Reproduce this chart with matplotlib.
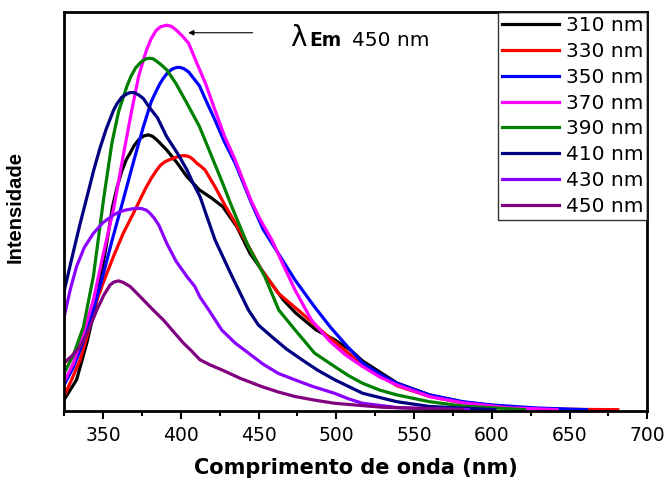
import matplotlib
matplotlib.use('Agg')
import matplotlib.pyplot as plt
from matplotlib.ticker import MultipleLocator

plt.rcParams['font.family'] = ['DejaVu Sans']

# emission spectra, wavelength (nm) vs intensity (a.u.)
nm_310 = [325, 333, 339.6, 346, 352.4, 356, 359, 362, 365, 367.4, 370, 373, 376, 379.2, 382, 385, 388, 391, 398,
          404, 412, 420, 427, 436, 444.5, 455, 466, 474, 487, 499, 509, 517, 539, 560, 581.5, 620]
int_310 = [2.8, 7.8, 17, 27.8, 42.1, 51, 56, 60, 63, 64.6, 66.5, 68, 68.9, 69.2, 68.8, 67.8, 66.6, 65.4, 62,
           58.7, 55.4, 53.3, 51.2, 46.2, 39.5, 33.7, 27.8, 24.5, 20.3, 17.8, 15.3, 12.5, 7, 4, 2.2, 0.5]

nm_330 = [325, 330, 335.3, 340, 343.8, 350, 356.7, 363, 369.5, 377, 381, 384.6, 387, 390, 393, 395.2, 398.5, 401.7,
          404, 406, 408, 410.3, 413, 415.6, 422, 428.5, 441.3, 452, 462.7, 477.8, 494.9, 517, 539, 560, 581.5,
          620, 650, 681]
int_330 = [3.6, 8, 12.8, 19, 25.3, 32, 38.7, 44.5, 49.5, 55.5, 58.3, 60.4, 61.6, 62.5, 63, 63.3, 63.8, 64,
           63.9, 63.6, 63, 62.1, 61.3, 60.4, 56.2, 51.5, 42.9, 35.3, 29.5, 24.5, 18.6, 11.5, 6.3, 3.6, 2.0,
           0.7, 0.4, 0.3]

nm_350 = [325, 331, 337, 343.8, 350, 356, 363, 370, 376, 381, 384, 386.7, 389, 392, 395, 397.5, 399.6, 402, 405,
          408, 412, 416, 422, 428, 435, 445, 453, 462.5, 473.5, 486, 496, 507, 517, 528, 539, 560, 581.5, 599,
          630, 661]
int_350 = [6.5, 11, 17, 25.3, 34, 43, 52.9, 63, 71.3, 77.5, 80, 82.1, 83.5, 85, 85.8, 86.1, 86.1, 85.8, 85,
           83.5, 81.5, 78, 72.9, 67.5, 62.1, 52.5, 45.5, 39.6, 32.8, 26.1, 21.1, 16.2, 12, 9.2, 6.9, 4.0, 2.3,
           1.5, 0.7, 0.3]

nm_370 = [325, 331, 337, 343.8, 350, 357, 363, 368.5, 373, 376, 378, 381, 384, 387, 391, 394, 397, 401, 405,
          410, 416, 422, 428, 435, 445, 451, 458.5, 466, 473.5, 484, 496, 506, 517, 528, 539, 560, 581.5, 610, 642]
int_370 = [7.3, 12, 19, 27.8, 39, 51, 64, 75.4, 84, 88, 90.5, 93.3, 95.3, 96.3, 96.7, 96.4, 95.5, 94, 92.2,
           87.5, 82, 75.4, 69, 62.9, 52.9, 48, 42.9, 36.5, 30.3, 22.8, 17.4, 14, 11.1, 8.5, 6.5, 3.6, 2.0, 0.8, 0.3]

nm_390 = [325, 331, 337.4, 343.8, 350.3, 355.7, 360, 365.3, 368, 371, 374, 376, 378, 380, 382, 384, 387, 391, 397,
          404, 412, 420, 427, 433, 443.5, 454, 463, 473.5, 486, 499, 508, 517, 528, 539, 560, 581.5, 621]
int_390 = [9.5, 14, 21.1, 33.7, 52.9, 67.1, 75, 81.3, 83.9, 86, 87.3, 87.9, 88.3, 88.4, 88.3, 87.8, 86.9, 85.5,
           82, 77.1, 71.3, 63.7, 57, 51, 41.2, 33.7, 25.3, 20.3, 14.5, 11.1, 8.8, 6.9, 5.2, 4.0, 2.3, 1.2, 0.3]

nm_410 = [325, 331, 335, 339.6, 344, 348, 352, 356.7, 359, 362, 365, 367.4, 370, 373, 376, 378, 381, 385, 391,
          398, 404, 408, 412.4, 417, 422, 433, 443.5, 450, 458.5, 468, 478, 488, 499, 517, 539, 560, 602]
int_410 = [30, 40, 46.5, 53.5, 60.3, 65.8, 70.6, 75.3, 77, 78.6, 79.4, 79.8, 79.8, 79.2, 78.3, 77.1, 75.5, 73.5,
           68.7, 64.5, 60.4, 57, 53.7, 48.5, 42.9, 33.7, 25.3, 21.5, 18.6, 15.5, 12.8, 10.2, 7.8, 4.4, 2.3, 1.1, 0.3]

nm_430 = [325, 329, 333, 338, 343.8, 350, 356.7, 360, 364, 368, 371.7, 375, 378, 380.3, 383, 386, 391, 397,
          403.9, 409, 412.4, 418, 426.3, 435, 443.5, 453, 462.7, 474, 485, 499, 508, 517, 540, 585]
int_430 = [23.6, 30.5, 36.2, 41, 44.5, 47.2, 49.1, 49.8, 50.3, 50.6, 50.8, 50.7, 50.3, 49.5, 48.3, 46.5, 42,
           37.5, 33.7, 31.2, 28.5, 25.3, 20.3, 17, 14.5, 11.7, 9.4, 7.7, 6.1, 4.4, 3.0, 1.9, 0.8, 0.3]

nm_450 = [325, 330, 335.3, 341, 346, 350.5, 354.6, 357, 360, 363, 367.4, 372, 378, 383, 388.8, 395, 401.7, 407,
          412.4, 419, 426.3, 438, 452, 463, 473.5, 486, 499, 530, 581]
int_450 = [12, 13.8, 16.1, 20.5, 25.3, 29, 31.6, 32.3, 32.6, 32.2, 31.2, 29.4, 27, 25, 22.8, 20, 17, 15,
           12.8, 11.5, 10.3, 8.2, 6.1, 4.7, 3.6, 2.7, 1.9, 0.9, 0.3]

labels = ['310 nm', '330 nm', '350 nm', '370 nm', '390 nm', '410 nm', '430 nm', '450 nm']
colors = ['#000000', '#FF0000', '#0000FF', '#FF00FF', '#008000', '#000080', '#8A00FF', '#800080']

series = [(nm_310, int_310), (nm_330, int_330), (nm_350, int_350), (nm_370, int_370),
          (nm_390, int_390), (nm_410, int_410), (nm_430, int_430), (nm_450, int_450)]

fig = plt.figure(figsize=(6.68, 4.80), dpi=100)
ax = fig.add_axes([0.096, 0.144, 0.873, 0.831])

for (x, y), lab, c in zip(series, labels, colors):
    ax.plot(x, y, color=c, lw=2.3, label=lab, solid_joinstyle='round')

ax.set_xlim(325, 700)
ax.set_ylim(0, 100)
ax.xaxis.set_major_locator(MultipleLocator(50))
ax.xaxis.set_minor_locator(MultipleLocator(25))
ax.tick_params(axis='x', which='major', direction='out', length=6, width=1.5, labelsize=13.5, pad=5)
ax.tick_params(axis='x', which='minor', direction='out', length=3.5, width=1.5)
ax.set_yticks([])
for sp in ax.spines.values():
    sp.set_linewidth(2)

ax.set_xlabel('Comprimento de onda (nm)', fontsize=15, fontweight='bold', labelpad=9)
ax.set_ylabel('Intensidade', fontsize=14.5, fontweight='bold', family='Liberation Sans')
ax.yaxis.set_label_coords(-0.067, 0.51)

leg = ax.legend(loc='upper right', prop={'family': 'DejaVu Sans', 'size': 14.5}, frameon=True,
                fancybox=False, borderaxespad=0, handlelength=2.8, handletextpad=0.35,
                labelspacing=0.34, borderpad=0.2)
leg.get_frame().set_edgecolor('black')
leg.get_frame().set_linewidth(1.0)

# excitation label with arrow pointing at the 370 nm peak
ax.annotate('', xy=(403, 94.8), xytext=(448, 94.8),
            arrowprops=dict(arrowstyle='-|>', color='black', lw=0.8, mutation_scale=8))
ax.text(470.5, 91.5, 'λ', fontsize=20, va='baseline', ha='left')
ax.text(482.5, 91.5, 'Em', fontsize=13.5, fontweight='bold', va='baseline', ha='left')
ax.text(510, 91.5, '450 nm', fontsize=14.5, va='baseline', ha='left')

fig.savefig('out.png', dpi=100)
